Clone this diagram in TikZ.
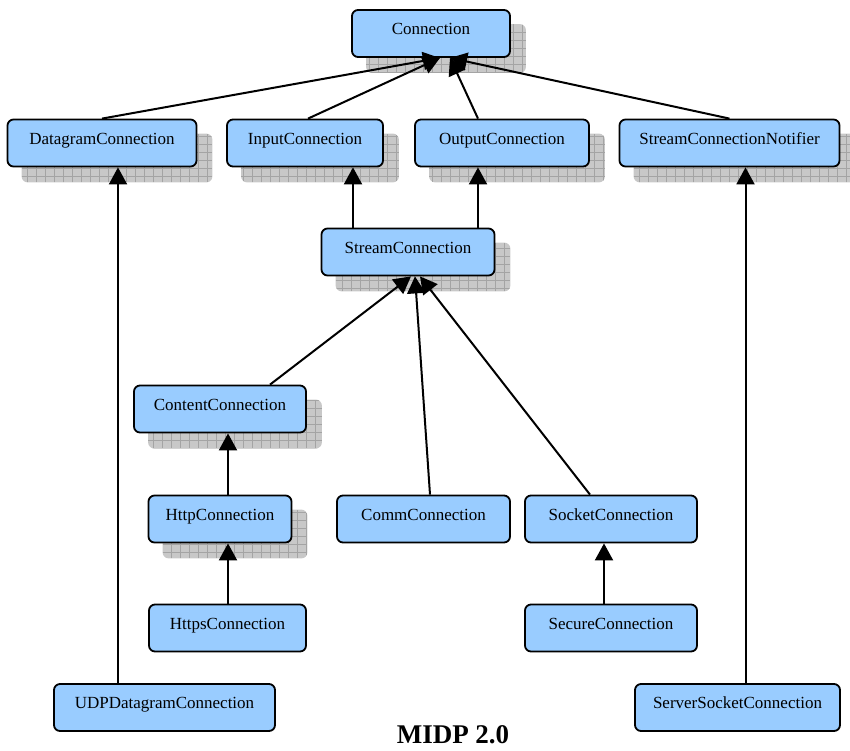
\documentclass[tikz,border=0pt]{standalone}
\usepackage{fontspec}
\setmainfont{Liberation Serif}
\usetikzlibrary{arrows.meta,backgrounds}

\definecolor{boxblue}{HTML}{99CCFF}
\definecolor{shadowgray}{HTML}{C8C8C8}
\definecolor{gridgray}{HTML}{A4A4A4}

\tikzset{
  cls/.style={draw=black, line width=1.8pt, fill=boxblue, rounded corners=6pt,
    inner sep=0pt, minimum height=47pt, text height=12pt, text depth=10pt,
    font=\fontsize{17}{20}\selectfont},
  shadowbox/.style={fill=shadowgray, rounded corners=6pt,
    path picture={\draw[gridgray, line width=0.6pt]
      (path picture bounding box.south west) grid[xstep=9pt, ystep=8pt]
      (path picture bounding box.north east);}},
  inherit/.style={draw=black, line width=2pt,
    -{Triangle[length=17pt,width=18pt]}},
}

% drop shadow behind a class box
\newcommand{\boxshadow}[1]{%
  \path[shadowbox] ([shift={(15pt,-15pt)}]#1.north west)
    rectangle ([shift={(15pt,-15pt)}]#1.south east);}

\begin{document}
\begin{tikzpicture}[x=1pt,y=-1pt]
  \useasboundingbox (0,0) rectangle (850,750);

  % class boxes
  \node[cls, minimum width=158pt] (conn)     at (431,33.5)   {Connection};
  \node[cls, minimum width=189pt] (dgram)    at (102,143)    {DatagramConnection};
  \node[cls, minimum width=156pt] (input)    at (305,143)    {InputConnection};
  \node[cls, minimum width=174pt] (output)   at (502,143)    {OutputConnection};
  \node[cls, minimum width=220pt] (notifier) at (729.5,143)  {StreamConnectionNotifier};
  \node[cls, minimum width=173pt] (stream)   at (408,252)    {StreamConnection};
  \node[cls, minimum width=172pt] (content)  at (220,409)    {ContentConnection};
  \node[cls, minimum width=143pt] (http)     at (220,519)    {HttpConnection};
  \node[cls, minimum width=173pt] (comm)     at (423.5,519)  {CommConnection};
  \node[cls, minimum width=172pt] (socket)   at (611,519)    {SocketConnection};
  \node[cls, minimum width=157pt] (https)    at (227.5,628)  {HttpsConnection};
  \node[cls, minimum width=172pt] (secure)   at (611,628)    {SecureConnection};
  \node[cls, minimum width=221pt] (udp)      at (164.5,707.5){UDPDatagramConnection};
  \node[cls, minimum width=205pt] (server)   at (737.5,707.5){ServerSocketConnection};

  \node[font=\fontsize{27}{31}\selectfont\bfseries, anchor=base] (title)
    at (453,743) {MIDP 2.0};

  % shadows
  \begin{pgfonlayer}{background}
    \boxshadow{conn}
    \boxshadow{dgram}
    \boxshadow{input}
    \boxshadow{output}
    \boxshadow{notifier}
    \boxshadow{stream}
    \boxshadow{content}
    \boxshadow{http}
  \end{pgfonlayer}

  % generalisation arrows
  \draw[inherit] (dgram.north)                  -- ([xshift=9pt]conn.south);
  \draw[inherit] ([xshift=3pt]input.north)      -- ([xshift=9pt]conn.south);
  \draw[inherit] ([xshift=-24pt]output.north)   -- ([xshift=19pt]conn.south);
  \draw[inherit] (notifier.north)               -- ([xshift=19pt]conn.south);

  \draw[inherit] ([xshift=-55pt]stream.north)   -- ([xshift=48pt]input.south);
  \draw[inherit] ([xshift=70pt]stream.north)    -- ([xshift=-24pt]output.south);

  \draw[inherit] ([xshift=50pt]content.north)   -- ([xshift=3pt]stream.south);
  \draw[inherit] ([xshift=6.5pt]comm.north)     -- ([xshift=7pt]stream.south);
  \draw[inherit] ([xshift=-21pt]socket.north)   -- ([xshift=12pt]stream.south);

  \draw[inherit] ([xshift=8pt]http.north)       -- ([xshift=8pt]content.south);
  \draw[inherit] ([xshift=0.5pt]https.north)    -- ([xshift=8pt]http.south);
  \draw[inherit] ([xshift=-7pt]secure.north)    -- ([xshift=-7pt]socket.south);

  \draw[inherit] ([xshift=-46.5pt]udp.north)    -- ([xshift=16pt]dgram.south);
  \draw[inherit] ([xshift=8pt]server.north)     -- ([xshift=16pt]notifier.south);
\end{tikzpicture}
\end{document}
